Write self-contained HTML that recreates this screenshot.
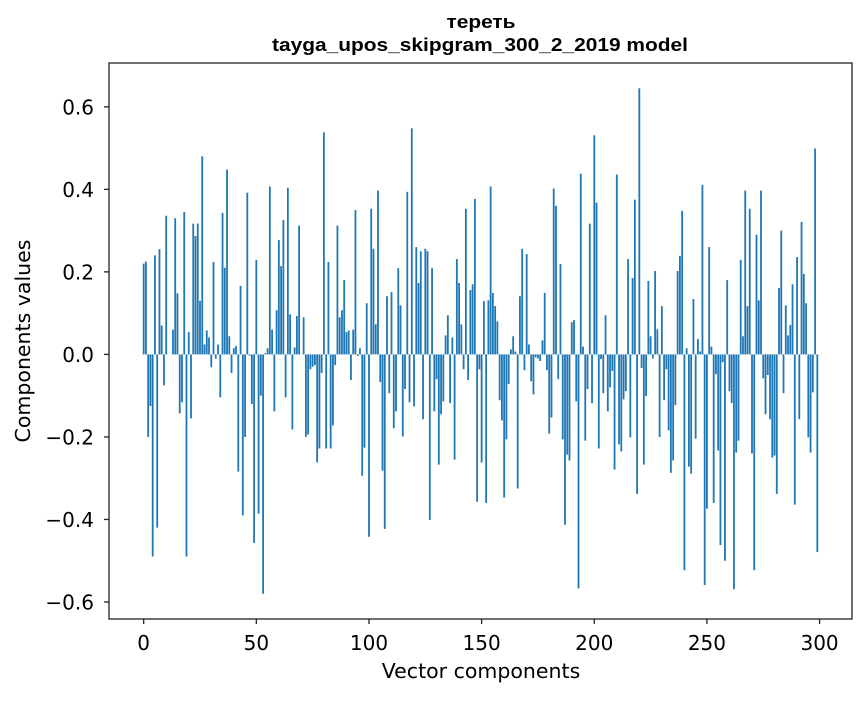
<!DOCTYPE html>
<html><head><meta charset="utf-8">
<style>
html,body{margin:0;padding:0;background:#fff;}
svg text{font-family:"DejaVu Sans","Liberation Sans",sans-serif;fill:#000;}
</style></head>
<body>
<svg id="chart" width="867" height="696" viewBox="0 0 867 696" xmlns="http://www.w3.org/2000/svg">
<rect width="867" height="696" fill="#fff"/>
<text x="481" y="28" text-anchor="middle" textLength="69" lengthAdjust="spacingAndGlyphs" style="font-family:'Liberation Sans',sans-serif;font-weight:bold;font-size:18px">тереть</text>
<text x="480" y="51" text-anchor="middle" textLength="416" lengthAdjust="spacingAndGlyphs" style="font-family:'Liberation Sans',sans-serif;font-weight:bold;font-size:18px">tayga_upos_skipgram_300_2_2019 model</text>
<g id="bars"></g>
<g id="axes"></g>
<text x="481" y="678" text-anchor="middle" font-size="20.5">Vector components</text>
<text transform="translate(30,341) rotate(-90)" text-anchor="middle" font-size="20.5">Components values</text>
</svg>
<script>
const values = [
0.22,0.225,-0.2,-0.125,-0.49,0.24,-0.42,0.255,0.07,-0.075,
0.336,0.0,0.0,0.06,0.33,0.148,-0.143,-0.116,0.345,-0.49,
0.054,-0.155,0.317,0.287,0.317,0.13,0.48,0.024,0.058,0.041,
-0.031,0.224,-0.01,0.024,-0.104,0.343,0.21,0.448,0.044,-0.045,
0.015,0.02,-0.284,0.166,-0.39,-0.2,0.392,-0.003,-0.12,-0.457,
0.229,-0.386,-0.1,-0.58,0.003,0.015,0.407,0.06,-0.138,0.107,
0.277,0.214,0.326,-0.104,0.404,0.097,-0.182,0.017,0.093,0.312,
0.0,0.09,-0.2,-0.194,-0.036,-0.03,-0.026,-0.262,-0.228,-0.045,
0.538,-0.228,0.224,-0.228,-0.172,-0.026,0.312,0.09,0.107,0.18,
0.054,0.058,-0.062,0.06,0.35,-0.004,0.015,-0.294,-0.226,0.124,
-0.442,0.353,0.256,0.073,0.397,-0.067,-0.282,-0.423,0.141,-0.094,
0.151,-0.179,-0.138,0.209,0.119,-0.199,-0.084,0.394,-0.116,0.548,
-0.126,0.26,0.173,0.25,-0.157,0.256,0.25,-0.401,0.209,-0.138,
-0.06,-0.267,-0.145,-0.114,0.046,0.095,-0.118,0.041,-0.255,0.231,
0.173,0.073,-0.036,0.353,-0.062,0.156,0.17,0.377,-0.357,-0.036,
-0.262,0.129,-0.36,0.131,0.407,0.149,0.117,0.08,-0.111,-0.16,
-0.347,-0.206,-0.072,0.012,0.044,0.007,-0.325,0.141,0.256,-0.038,
0.243,0.024,-0.065,-0.097,-0.007,-0.01,-0.016,0.034,0.149,-0.038,
-0.192,-0.153,0.402,0.36,-0.06,0.219,-0.206,-0.413,-0.243,-0.257,
0.078,0.083,-0.114,-0.567,0.438,0.019,-0.209,-0.084,0.317,-0.118,
0.531,0.368,-0.228,-0.011,-0.094,0.095,-0.138,-0.08,-0.04,-0.279,
0.436,-0.218,-0.235,-0.109,-0.089,0.231,-0.201,0.185,0.375,-0.338,
0.645,-0.033,-0.267,-0.101,0.178,0.044,-0.01,0.202,0.061,-0.2,
0.117,-0.111,-0.036,-0.184,-0.287,-0.257,-0.123,0.202,0.239,0.348,
-0.523,0.015,-0.272,-0.289,0.134,-0.204,0.037,0.007,0.411,-0.559,
-0.374,0.26,0.019,-0.36,-0.048,-0.233,-0.462,-0.019,-0.5,0.18,
-0.089,-0.118,-0.569,-0.238,-0.209,0.229,0.044,0.397,0.117,0.353,
-0.24,-0.523,0.29,0.131,0.397,-0.058,-0.145,-0.05,-0.157,-0.25,
-0.245,-0.338,0.161,0.3,-0.094,0.119,0.046,0.071,0.17,-0.364,
0.236,-0.157,0.321,0.195,0.124,-0.201,-0.238,-0.092,0.499,-0.479
];
const xTicks = [0,50,100,150,200,250,300];
const yTicks = [-0.6,-0.4,-0.2,0.0,0.2,0.4,0.6];

const NS = "http://www.w3.org/2000/svg";
const L = 109, R = 852, T = 63, B = 619;
const n = values.length;
const xmin = -0.4 - 0.05 * (n - 1 + 0.8), xmax = n - 1 + 0.4 + 0.05 * (n - 1 + 0.8);
let vmin = Math.min(0, ...values), vmax = Math.max(0, ...values);
const ymin = vmin - 0.05 * (vmax - vmin), ymax = vmax + 0.05 * (vmax - vmin);
const xs = v => L + (v - xmin) / (xmax - xmin) * (R - L);
const ys = v => B - (v - ymin) / (ymax - ymin) * (B - T);

const bars = document.getElementById('bars');
values.forEach((v, i) => {
  const r = document.createElementNS(NS, 'rect');
  const x0 = xs(i - 0.4), x1 = xs(i + 0.4);
  const y0 = ys(Math.max(v, 0)), y1 = ys(Math.min(v, 0));
  r.setAttribute('x', x0);
  r.setAttribute('width', x1 - x0);
  r.setAttribute('y', y0);
  r.setAttribute('height', Math.max(y1 - y0, 0.01));
  r.setAttribute('fill', '#1f77b4');
  
  
  bars.appendChild(r);
});

const axes = document.getElementById('axes');
const frame = document.createElementNS(NS, 'rect');
frame.setAttribute('x', L); frame.setAttribute('y', T);
frame.setAttribute('width', R - L); frame.setAttribute('height', B - T);
frame.setAttribute('fill', 'none'); frame.setAttribute('stroke', '#222'); frame.setAttribute('stroke-width', '1.3');


axes.appendChild(frame);

xTicks.forEach(t => {
  const x = xs(t);
  const l = document.createElementNS(NS, 'line');
  l.setAttribute('x1', x); l.setAttribute('x2', x); l.setAttribute('y1', B); l.setAttribute('y2', B + 5);
  l.setAttribute('stroke', '#222'); l.setAttribute('stroke-width', '1.3');
  
  
  axes.appendChild(l);
  const tx = document.createElementNS(NS, 'text');
  tx.setAttribute('x', x); tx.setAttribute('y', B + 31);
  tx.setAttribute('text-anchor', 'middle'); tx.setAttribute('font-size', '20');
  tx.textContent = String(t);
  
  
  axes.appendChild(tx);
});
yTicks.forEach(t => {
  const y = ys(t);
  const l = document.createElementNS(NS, 'line');
  l.setAttribute('x1', L - 5); l.setAttribute('x2', L); l.setAttribute('y1', y); l.setAttribute('y2', y);
  l.setAttribute('stroke', '#222'); l.setAttribute('stroke-width', '1.3');
  
  
  axes.appendChild(l);
  const tx = document.createElementNS(NS, 'text');
  tx.setAttribute('x', L - 15); tx.setAttribute('y', y + 7.5);
  tx.setAttribute('text-anchor', 'end'); tx.setAttribute('font-size', '20');
  tx.textContent = (t < 0 ? '\u2212' : '') + Math.abs(t).toFixed(1);
  
  
  axes.appendChild(tx);
});
</script>
</body></html>
